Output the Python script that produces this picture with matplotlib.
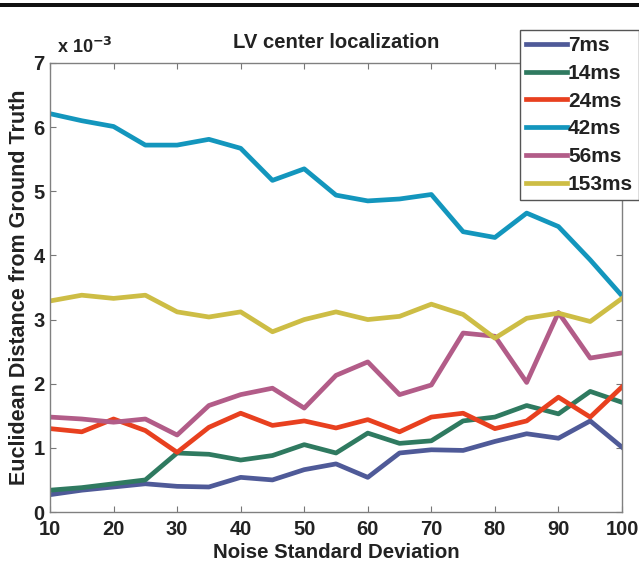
import matplotlib
matplotlib.use("Agg")
import matplotlib.pyplot as plt
from matplotlib.patches import Rectangle

noise = [10, 15, 20, 25, 30, 35, 40, 45, 50, 55, 60, 65, 70, 75, 80, 85, 90, 95, 100]

# values in units of 1e-3
d_7ms = [0.27, 0.34, 0.39, 0.44, 0.40, 0.39, 0.54, 0.50, 0.66, 0.75, 0.54, 0.92, 0.97, 0.96, 1.10, 1.22, 1.15, 1.42, 1.01]
d_14ms = [0.34, 0.38, 0.44, 0.50, 0.92, 0.90, 0.81, 0.88, 1.05, 0.92, 1.23, 1.07, 1.11, 1.42, 1.48, 1.66, 1.53, 1.88, 1.71]
d_24ms = [1.30, 1.25, 1.45, 1.27, 0.93, 1.32, 1.54, 1.35, 1.42, 1.31, 1.44, 1.25, 1.48, 1.54, 1.30, 1.42, 1.79, 1.48, 1.95]
d_42ms = [6.21, 6.10, 6.01, 5.72, 5.72, 5.81, 5.67, 5.17, 5.35, 4.94, 4.85, 4.88, 4.95, 4.37, 4.28, 4.66, 4.45, 3.93, 3.37]
d_56ms = [1.48, 1.45, 1.40, 1.45, 1.20, 1.66, 1.83, 1.93, 1.62, 2.13, 2.34, 1.83, 1.98, 2.79, 2.74, 2.02, 3.11, 2.40, 2.48]
d_153ms = [3.29, 3.38, 3.33, 3.38, 3.12, 3.04, 3.12, 2.81, 3.00, 3.12, 3.00, 3.05, 3.24, 3.08, 2.71, 3.02, 3.10, 2.97, 3.33]

series = [("7ms", d_7ms, "#4f5a98"),
          ("14ms", d_14ms, "#2f7a60"),
          ("24ms", d_24ms, "#e8401f"),
          ("42ms", d_42ms, "#1396bd"),
          ("56ms", d_56ms, "#b25c88"),
          ("153ms", d_153ms, "#cdbd45")]

plt.rcParams['font.family'] = ['Liberation Sans', 'DejaVu Sans']
plt.rcParams['font.weight'] = 'bold'

fig = plt.figure(figsize=(6.39, 5.64), dpi=100)
ax = fig.add_axes([50/639, 1 - 512/564, 572/639, 449/564])

for name, vals, col in series:
    ax.plot(noise, vals, color=col, lw=3.4, label=name)

ax.set_xlim(10, 100)
ax.set_ylim(0, 7)
ax.set_xticks(range(10, 101, 10))
ax.set_yticks(range(0, 8))
ax.tick_params(direction='in', top=True, right=True, length=4, width=0.8,
               color='#777777', labelsize=14.5, labelcolor='#222222')
ax.tick_params(axis='x', pad=6)
ax.tick_params(axis='y', pad=4)
for lab in ax.get_xticklabels() + ax.get_yticklabels():
    lab.set_fontweight('bold')
for sp in ax.spines.values():
    sp.set_color('#808080')
    sp.set_linewidth(1.0)

ax.set_xlabel('Noise Standard Deviation', fontsize=14.7, fontweight='bold', color='#222222', labelpad=2.5)
ax.set_ylabel('Euclidean Distance from Ground Truth', fontsize=15.5, fontweight='bold', color='#222222', labelpad=2)
ax.set_title('LV center localization', fontsize=14.6, fontweight='bold', color='#222222', pad=11)
ax.text(7/572, 1 + 10/449, r'x 10$^{\mathbf{-3}}$', transform=ax.transAxes, fontsize=13,
        fontweight='bold', color='#222222', ha='left', va='baseline')

leg = fig.legend(loc='upper left', bbox_to_anchor=(520/639, 1 - 30/564), fontsize=15,
                 handlelength=1.95, handletextpad=0.05, labelspacing=0.42, borderpad=0.3,
                 borderaxespad=0, fancybox=False, framealpha=1, edgecolor='#555555')
leg.get_frame().set_linewidth(1.0)
for t in leg.get_texts():
    t.set_color('#222222')

# top rule of the page
fig.patches.append(Rectangle((0, 1 - 7/564), 1, 4/564, transform=fig.transFigure,
                             facecolor='#111111', edgecolor='none'))

fig.savefig('out.png', dpi=100)
